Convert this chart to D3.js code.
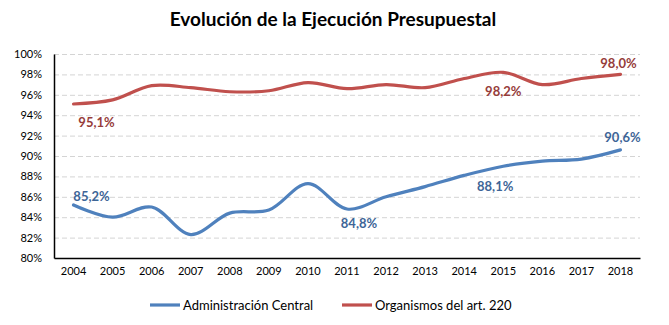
<!DOCTYPE html>
<html>
<head>
<meta charset="utf-8">
<script src="https://cdn.jsdelivr.net/npm/d3@7"></script>
<style>
  body { margin: 0; background: #fff; }
  svg { display: block; font-family: Lato, "Open Sans", sans-serif; }
</style>
</head>
<body>
<div id="chart"></div>
<script>
// Evolución de la ejecución presupuestal 2004-2018
const years = ['2004', '2005', '2006', '2007', '2008', '2009', '2010', '2011', '2012', '2013', '2014', '2015', '2016', '2017', '2018'];
const adminCentral = [85.2, 84.0, 85.0, 82.3, 84.4, 84.7, 87.3, 84.8, 86.0, 87.0, 88.1, 89.0, 89.5, 89.7, 90.6];
const organismos = [95.1, 95.5, 96.9, 96.7, 96.3, 96.4, 97.2, 96.6, 97.0, 96.7, 97.6, 98.2, 97.0, 97.6, 98.0];
const yTicks = [80, 82, 84, 86, 88, 90, 92, 94, 96, 98, 100];
const seriesNames = ['Administración Central', 'Organismos del art. 220'];

const width = 669, height = 325;
const margin = { top: 54, right: 29, bottom: 67, left: 54 };

const series = [
  { name: seriesNames[0], values: adminCentral, color: '#4f81bd', labelColor: '#3d6597',
    // etiquetas: índice del año y desplazamiento respecto al punto
    labels: [{ i: 0, dx: 18, dy: -9 }, { i: 7, dx: 12, dy: 14 }, { i: 10, dx: 31, dy: 11 }, { i: 14, dx: 2, dy: -12 }] },
  { name: seriesNames[1], values: organismos, color: '#c0504d', labelColor: '#963c3a',
    labels: [{ i: 0, dx: 23, dy: 18 }, { i: 11, dx: 0, dy: 19 }, { i: 14, dx: -2, dy: -11 }] }
];

const svg = d3.select('#chart').append('svg')
  .attr('width', width)
  .attr('height', height);

const x = d3.scaleBand()
  .domain(years)
  .range([margin.left, width - margin.right]);

const y = d3.scaleLinear()
  .domain([80, 100])
  .range([height - margin.bottom, margin.top]);

const fmt = v => v.toFixed(1).replace('.', ',') + '%';

// título
svg.append('text')
  .attr('x', 333)
  .attr('y', 26)
  .attr('text-anchor', 'middle')
  .attr('font-size', 19)
  .attr('font-weight', 'bold')
  .attr('fill', '#000')
  .text('Evolución de la Ejecución Presupuestal');

// rejilla horizontal
svg.append('g')
  .selectAll('line')
  .data(yTicks.filter(d => d > 80))
  .join('line')
  .attr('x1', margin.left)
  .attr('x2', width - margin.right)
  .attr('y1', d => y(d) + 0.5)
  .attr('y2', d => y(d) + 0.5)
  .attr('stroke', '#d4d4d4')
  .attr('stroke-width', 1)
  .attr('stroke-dasharray', '5,3');

// eje Y
const yAxis = svg.append('g')
  .attr('transform', `translate(${margin.left},0)`)
  .call(d3.axisLeft(y).tickValues(yTicks).tickSize(0).tickPadding(12).tickFormat(d => d + '%'));
yAxis.select('.domain').attr('stroke', '#000').attr('stroke-width', 1.5);
yAxis.selectAll('text').attr('font-size', 11).attr('fill', '#000').attr('font-family', 'Lato, sans-serif');

// eje X
const xAxis = svg.append('g')
  .attr('transform', `translate(0,${height - margin.bottom})`)
  .call(d3.axisBottom(x).tickSize(0).tickPadding(9));
xAxis.select('.domain').attr('stroke', '#000').attr('stroke-width', 1.5);
xAxis.selectAll('text').attr('font-size', 11).attr('fill', '#000').attr('font-family', 'Lato, sans-serif');

const line = d3.line()
  .x((d, i) => x(years[i]) + x.bandwidth() / 2)
  .y(d => y(d))
  .curve(d3.curveCatmullRom.alpha(0.5));

series.forEach(s => {
  svg.append('path')
    .datum(s.values)
    .attr('fill', 'none')
    .attr('stroke', s.color)
    .attr('stroke-width', 3.2)
    .attr('stroke-linecap', 'round')
    .attr('d', line);

  svg.append('g')
    .selectAll('text')
    .data(s.labels)
    .join('text')
    .attr('x', d => x(years[d.i]) + x.bandwidth() / 2 + d.dx)
    .attr('y', d => y(s.values[d.i]) + d.dy)
    .attr('dy', '0.35em')
    .attr('text-anchor', 'middle')
    .attr('font-size', 13)
    .attr('font-weight', 'bold')
    .attr('fill', s.labelColor)
    .text(d => fmt(s.values[d.i]));
});

// leyenda
const legend = svg.append('g')
  .selectAll('g')
  .data(series)
  .join('g')
  .attr('transform', (d, i) => `translate(${i === 0 ? 150 : 342},305)`);

legend.append('line')
  .attr('x1', 0).attr('x2', 30)
  .attr('stroke', d => d.color)
  .attr('stroke-width', 3.2);

legend.append('text')
  .attr('x', 33)
  .attr('dy', '0.35em')
  .attr('font-size', 13)
  .attr('fill', '#000')
  .text(d => d.name);
</script>
</body>
</html>
